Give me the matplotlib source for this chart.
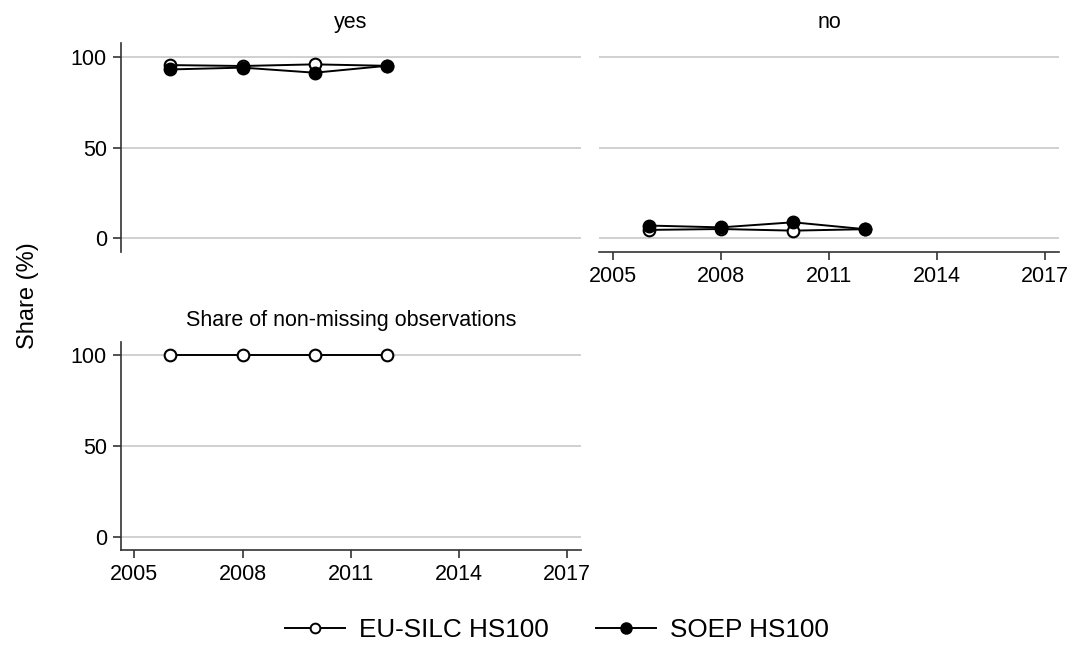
import matplotlib
matplotlib.use("Agg")
import matplotlib.pyplot as plt
from matplotlib.lines import Line2D

plt.rcParams["font.family"] = ["Liberation Sans", "DejaVu Sans"]

# Survey years
years = [2006, 2008, 2010, 2012]

# Share (%) answering "yes"
eu_yes = [95.4, 94.9, 95.8, 95.0]
soep_yes = [93.0, 94.0, 91.2, 95.0]

# Share (%) answering "no"
eu_no = [4.6, 5.1, 4.2, 5.0]
soep_no = [7.0, 6.0, 8.8, 5.0]

# Share of non-missing observations (%)
eu_nonmiss = [100, 100, 100, 100]

xticks = [2005, 2008, 2011, 2014, 2017]
yticks = [0, 50, 100]

W, H = 1071, 646
fig = plt.figure(figsize=(W / 100, H / 100), dpi=100)


def px_axes(x0, x1, y0, y1):
    return fig.add_axes([x0 / W, 1 - y1 / H, (x1 - x0) / W, (y1 - y0) / H])


ax_yes = px_axes(120.7, 581, 43.3, 251.7)
ax_no = px_axes(599.3, 1059, 43.3, 251.7)
ax_nm = px_axes(120.7, 581, 341.7, 550)

FS = 15.5
spine_col = "#333333"
grid_col = "#c8c8c8"

eu_style = dict(color="black", lw=1.4, marker="o", ms=8.4, mfc="white",
                mec="black", mew=1.5, zorder=3)
soep_style = dict(color="black", lw=1.4, marker="o", ms=9.0, mfc="black",
                  mec="black", mew=1.0, zorder=4)

for ax in (ax_yes, ax_no, ax_nm):
    ax.set_xlim(2004.62, 2017.385)
    ax.set_ylim(-7.4, 107.4)
    for s in ax.spines.values():
        s.set_visible(False)
    ax.set_yticks(yticks)
    ax.set_xticks(xticks)
    ax.yaxis.grid(True, color=grid_col, lw=1.2)
    ax.set_axisbelow(True)
    ax.tick_params(labelsize=FS, color=spine_col, width=1.2, length=6,
                   pad=4, direction="out")

# Left column: y axis visible
for ax in (ax_yes, ax_nm):
    ax.spines["left"].set_visible(True)
    ax.spines["left"].set_color(spine_col)
    ax.spines["left"].set_linewidth(1.2)
# Bottom row: x axis visible
for ax in (ax_no, ax_nm):
    ax.spines["bottom"].set_visible(True)
    ax.spines["bottom"].set_color(spine_col)
    ax.spines["bottom"].set_linewidth(1.2)

ax_yes.tick_params(axis="x", bottom=False, labelbottom=False)
ax_no.tick_params(axis="y", left=False, labelleft=False)

ax_yes.plot(years, eu_yes, **eu_style)
ax_yes.plot(years, soep_yes, **soep_style)
ax_no.plot(years, eu_no, **eu_style)
ax_no.plot(years, soep_no, **soep_style)
ax_nm.plot(years, eu_nonmiss, **eu_style)

ax_yes.set_title("yes", fontsize=FS, pad=11.3)
ax_no.set_title("no", fontsize=FS, pad=11.3)
ax_nm.set_title("Share of non-missing observations", fontsize=FS, pad=11.3)

fig.text(28 / W, 1 - 296 / H, "Share (%)", rotation=90, ha="center",
         va="center", fontsize=17)

handles = [
    Line2D([], [], color="black", lw=1.4, marker="o", ms=7.0, mfc="white",
           mec="black", mew=1.4),
    Line2D([], [], color="black", lw=1.4, marker="o", ms=8.0, mfc="black",
           mec="black"),
]
fig.legend(handles, ["EU-SILC HS100", "SOEP HS100"], loc="center",
           bbox_to_anchor=(557 / W, 1 - 630 / H), ncol=2, frameon=False,
           fontsize=18.8, handlelength=2.3, handletextpad=0.54,
           columnspacing=1.82)

fig.savefig("out.png", dpi=100)
